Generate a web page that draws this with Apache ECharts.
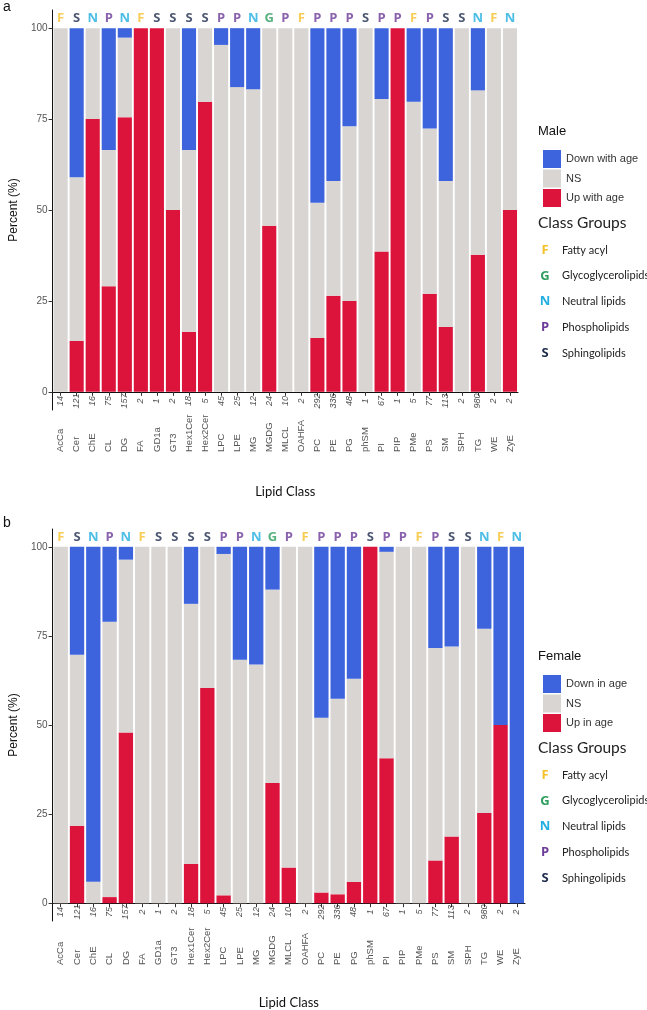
<!DOCTYPE html>
<html>
<head>
<meta charset="utf-8">
<script src="https://cdn.jsdelivr.net/npm/echarts@6/dist/echarts.min.js"></script>
<style>
html,body{margin:0;padding:0;background:#fff;}
#c{width:647px;height:1010px;}
</style>
</head>
<body>
<div id="c"></div>
<script>
const categories = ['AcCa','Cer','ChE','CL','DG','FA','GD1a','GT3','Hex1Cer','Hex2Cer','LPC','LPE','MG','MGDG','MLCL','OAHFA','PC','PE','PG','phSM','PI','PIP','PMe','PS','SM','SPH','TG','WE','ZyE'];
const groups = ['F','S','N','P','N','F','S','S','S','S','P','P','N','G','P','F','P','P','P','S','P','P','F','P','S','S','N','F','N'];
const counts = [14,121,16,75,157,2,1,2,18,5,45,25,12,24,10,2,292,336,48,1,67,1,5,77,113,2,980,2,2];

const maleDown = [0,41,0,33.5,2.6,0,0,0,33.5,0,4.6,16.2,16.8,0,0,0,48,42,27,0,19.5,0,20.2,27.6,42,0,17.1,0,0];
const maleNS   = [100,45,25,37.5,21.9,0,0,50,50,20.2,95.4,83.8,83.2,54.3,100,100,37.2,31.6,48,100,41.9,0,79.8,45.4,40.2,100,45.2,100,50];
const maleUp   = [0,14,75,29,75.5,100,100,50,16.5,79.8,0,0,0,45.7,0,0,14.8,26.4,25,0,38.6,100,0,27,17.8,0,37.7,0,50];

const femaleDown = [0,30.3,94,21,3.6,0,0,0,16,0,2,31.7,33,12,0,0,48,42.6,37,0,1.4,0,0,28.4,28,0,23,50,100];
const femaleNS   = [100,48,6,77.3,48.5,100,100,100,73,39.6,95.8,68.3,67,54.3,90,100,49,54.9,57,0,57.9,100,100,59.6,53.3,100,51.7,0,0];
const femaleUp   = [0,21.7,0,1.7,47.9,0,0,0,11,60.4,2.2,0,0,33.7,10,0,3,2.5,6,100,40.7,0,0,12,18.7,0,25.3,50,0];

const yTicks = [0,25,50,75,100];
const groupCodes = ['F','G','N','P','S'];
const groupNames = ['Fatty acyl','Glycoglycerolipids','Neutral lipids','Phospholipids','Sphingolipids'];

const groupColors = {F:'#f5c12a', G:'#2f9e5e', N:'#22aee0', P:'#6c3a97', S:'#1d2b4c'};
const cDown = '#3d63dd', cNS = '#d9d5d2', cUp = '#dc143c';

const grids = [
  {left:42, width:476, top:10, height:400},
  {left:42, width:483, top:529, height:395}
];

const xAxes = [], yAxes = [], series = [];
const panels = [
  {down:maleDown, ns:maleNS, up:maleUp, names:['Down with age','NS','Up with age']},
  {down:femaleDown, ns:femaleNS, up:femaleUp, names:['Down in age','NS','Up in age']}
];

panels.forEach((p, k) => {
  xAxes.push({
    type:'category', gridIndex:k, data:categories,
    axisLine:{show:true, lineStyle:{color:'#111', width:1}},
    axisTick:{show:true, alignWithLabel:true, length:4, lineStyle:{color:'#333'}},
    axisLabel:{interval:0, rotate:90, align:'left', margin:k===0?42:44, fontSize:9.5, color:'#555', fontFamily:'Liberation Sans'},
    name:'Lipid Class', nameLocation:'middle', nameGap:75,
    nameTextStyle:{fontSize:13, color:'#111', fontFamily:'Lato'}
  });
  yAxes.push({
    type:'value', gridIndex:k, min:-5, max:105,
    axisLine:{show:true, lineStyle:{color:'#111', width:1}},
    axisTick:{show:true, customValues:yTicks, length:4, lineStyle:{color:'#333'}},
    axisLabel:{customValues:yTicks, fontSize:10, color:'#555', fontFamily:'Liberation Sans', margin:5},
    splitLine:{show:false},
    name:'Percent (%)', nameLocation:'middle', nameGap:27, nameRotate:90,
    nameTextStyle:{fontSize:12, color:'#111', fontFamily:'Liberation Sans'}
  });
  const stack = 'st' + k;
  series.push({name:p.names[2], type:'bar', stack, xAxisIndex:k, yAxisIndex:k, barWidth:'88%', data:p.up, itemStyle:{color:cUp}});
  series.push({name:p.names[1], type:'bar', stack, xAxisIndex:k, yAxisIndex:k, barWidth:'88%', data:p.ns, itemStyle:{color:cNS}});
  series.push({name:p.names[0], type:'bar', stack, xAxisIndex:k, yAxisIndex:k, barWidth:'88%', data:p.down, itemStyle:{color:cDown}});
  series.push({
    type:'scatter', xAxisIndex:k, yAxisIndex:k, symbolSize:0, silent:true,
    data: categories.map((c,i)=>[c,-2.5]),
    label:{show:true, position:'inside', rotate:90, fontStyle:'italic', fontSize:9, color:'#222', fontFamily:'Liberation Sans',
      formatter:(d)=>String(counts[d.dataIndex])}
  });
  series.push({
    type:'scatter', xAxisIndex:k, yAxisIndex:k, symbolSize:0, silent:true,
    data: categories.map((c,i)=>({value:[c,102.8], label:{color:groupColors[groups[i]]}})),
    label:{show:true, position:'inside', fontWeight:'bold', fontSize:13, fontFamily:'Open Sans',
      formatter:(d)=>groups[d.dataIndex]}
  });
});

const legOff = [0, 525];
const legends = panels.map((p,k)=>({
  data:p.names, orient:'vertical', left:538, top:145+legOff[k], itemWidth:18, itemHeight:18, itemGap:1.5,
  icon:'rect', textStyle:{fontSize:11, color:'#333', fontFamily:'Liberation Sans'}, selectedMode:false
}));

const graphics = [
  {type:'text', left:3, top:0, style:{text:'a', fontSize:14, fill:'#111', fontFamily:'Liberation Sans'}},
  {type:'text', left:3, top:516, style:{text:'b', fontSize:14, fill:'#111', fontFamily:'Liberation Sans'}}
];
['Male','Female'].forEach((t,k)=>{
  const o = legOff[k];
  graphics.push({type:'text', left:538, top:125+o, style:{text:t, fontSize:13, fill:'#111', fontFamily:'Liberation Sans'}});
  graphics.push({type:'text', left:538, top:215+o, style:{text:'Class Groups', fontSize:15.5, fill:'#222', fontFamily:'Lato'}});
  groupCodes.forEach((g,i)=>{
    const y = 250 + i*25.8 + o;
    graphics.push({type:'text', x:545, y:y, style:{text:g, fontSize:13, fontWeight:'bold', fill:groupColors[g], fontFamily:'Open Sans', align:'center', verticalAlign:'middle'}});
    graphics.push({type:'text', x:562, y:y, style:{text:groupNames[i], fontSize:11, fill:'#222', fontFamily:'Lato', align:'left', verticalAlign:'middle'}});
  });
});

const chart = echarts.init(document.getElementById('c'), null, {renderer:'canvas'});
chart.setOption({
  animation:false,
  backgroundColor:'#fff',
  grid:grids,
  xAxis:xAxes,
  yAxis:yAxes,
  legend:legends,
  series:series,
  graphic:graphics
});
</script>
</body>
</html>
